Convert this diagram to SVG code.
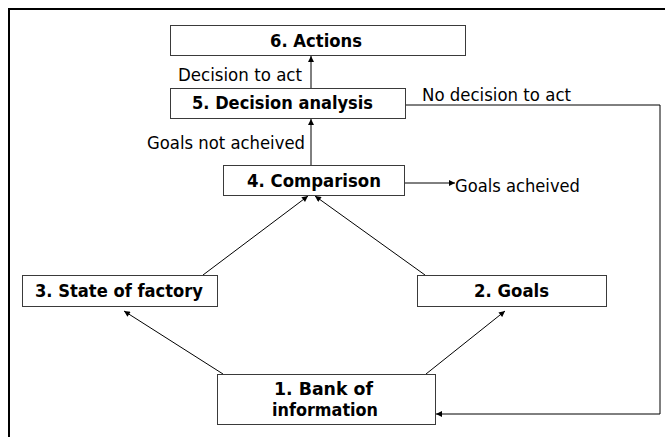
<svg xmlns="http://www.w3.org/2000/svg" width="665" height="437" viewBox="0 0 665 437">
<style>
.box{fill:#fff;stroke:#3a3a3a;stroke-width:1}
.t{font-family:"DejaVu Sans",Verdana,sans-serif;font-weight:bold;font-size:17.5px;fill:#000;text-anchor:middle}
.l{font-family:"DejaVu Sans",Verdana,sans-serif;font-size:17.5px;fill:#000}
.c{fill:none;stroke:#000;stroke-width:1}
</style>
<defs>
<marker id="ah" viewBox="0 0 10 10" refX="10" refY="5" markerWidth="7" markerHeight="6" markerUnits="userSpaceOnUse" orient="auto">
<path d="M0,0 L10,5 L0,10 z" fill="#000"/>
</marker>
</defs>
<rect width="665" height="437" fill="#fff"/>
<path d="M9,437 L9,9 L665,9" fill="none" stroke="#000" stroke-width="2"/>
<g id="connectors">
<line class="c" x1="311" y1="88" x2="311" y2="56" marker-end="url(#ah)"/>
<line class="c" x1="311" y1="165" x2="311" y2="119" marker-end="url(#ah)"/>
<polyline class="c" points="405,105 660,105 660,414 436,414" marker-end="url(#ah)"/>
<line class="c" x1="404" y1="183" x2="455" y2="183" marker-end="url(#ah)"/>
<line class="c" x1="203" y1="275" x2="308" y2="196" marker-end="url(#ah)"/>
<line class="c" x1="425" y1="275" x2="315" y2="196" marker-end="url(#ah)"/>
<line class="c" x1="223" y1="374" x2="124" y2="311" marker-end="url(#ah)"/>
<line class="c" x1="426" y1="374" x2="505" y2="311" marker-end="url(#ah)"/>
<text class="l" x="178" y="81" textLength="124" lengthAdjust="spacingAndGlyphs">Decision to act</text>
<text class="l" x="422" y="101" textLength="149" lengthAdjust="spacingAndGlyphs">No decision to act</text>
<text class="l" x="147" y="149" textLength="158" lengthAdjust="spacingAndGlyphs">Goals not acheived</text>
<text class="l" x="455" y="192" textLength="125" lengthAdjust="spacingAndGlyphs">Goals acheived</text>
</g>
<g id="n6"><rect class="box" x="170.5" y="25.5" width="295" height="30"/><text class="t" x="316" y="47" textLength="92" lengthAdjust="spacingAndGlyphs">6. Actions</text></g>
<g id="n5"><rect class="box" x="170.5" y="88.5" width="235" height="30"/><text class="t" x="282.5" y="109" textLength="181" lengthAdjust="spacingAndGlyphs">5. Decision analysis</text></g>
<g id="n4"><rect class="box" x="223.5" y="165.5" width="181" height="30"/><text class="t" x="314" y="187" textLength="134" lengthAdjust="spacingAndGlyphs">4. Comparison</text></g>
<g id="n3"><rect class="box" x="22.5" y="275.5" width="195" height="31"/><text class="t" x="119" y="297" textLength="168" lengthAdjust="spacingAndGlyphs">3. State of factory</text></g>
<g id="n2"><rect class="box" x="417.5" y="275.5" width="189" height="31"/><text class="t" x="511.5" y="297" textLength="75" lengthAdjust="spacingAndGlyphs">2. Goals</text></g>
<g id="n1"><rect class="box" x="217.5" y="374.5" width="218" height="50"/><text class="t" x="323.5" y="395" textLength="99" lengthAdjust="spacingAndGlyphs">1. Bank of</text><text class="t" x="325" y="416" textLength="106" lengthAdjust="spacingAndGlyphs">information</text></g>
</svg>
